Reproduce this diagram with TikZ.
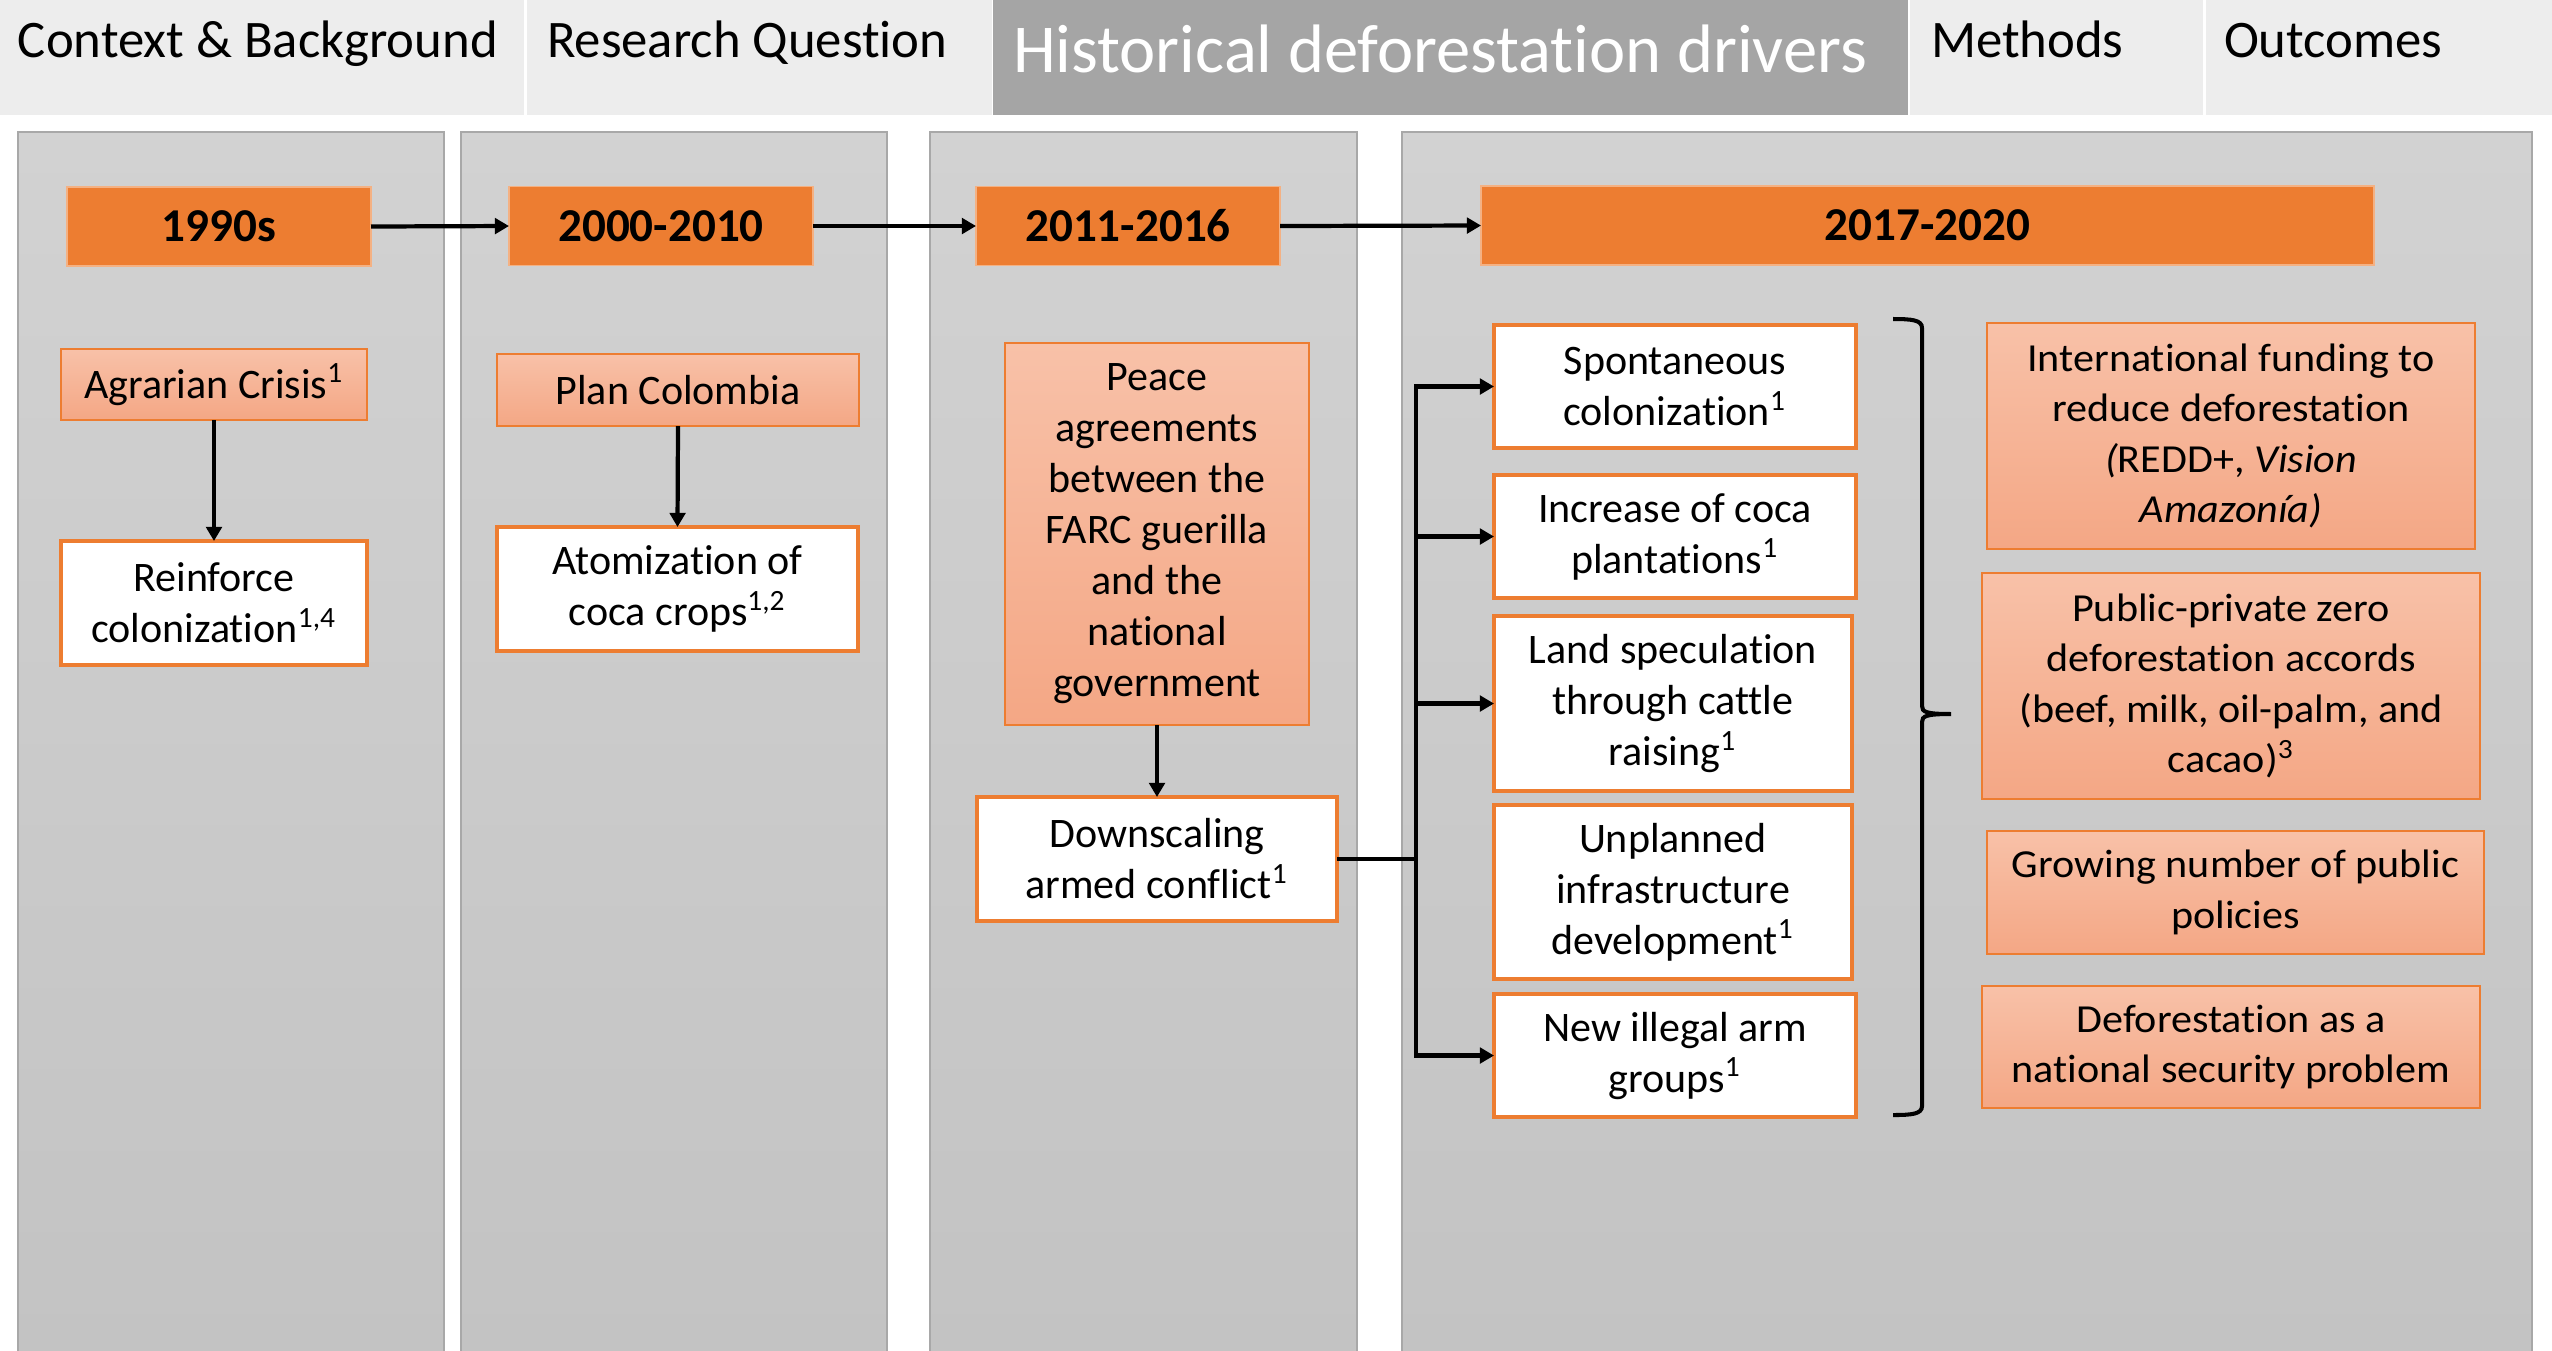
\documentclass[tikz,border=0pt]{standalone}
\usepackage{fontspec}
\setmainfont{Carlito}[Ligatures=NoCommon]
\newfontfamily\rfont{Carlito}[Ligatures=NoCommon, FakeStretch=1.06]
\usetikzlibrary{arrows.meta,calc}
\definecolor{orng}{HTML}{ED7D31}
\definecolor{orngedge}{HTML}{F4B183}
\definecolor{ltop}{HTML}{F8C1A8}
\definecolor{lbot}{HTML}{F4A785}
\definecolor{ptop}{HTML}{D2D2D2}
\definecolor{pbot}{HTML}{C3C3C3}
\definecolor{pedge}{HTML}{A8A8A8}
\definecolor{tablight}{HTML}{EDEDED}
\definecolor{tabdark}{HTML}{A5A5A5}
\begin{document}
\begin{tikzpicture}[x=0.01cm,y=-0.01cm,
  every node/.style={inner sep=0pt, outer sep=0pt},
  sz/.style 2 args={minimum width=#1*0.01cm, minimum height=#2*0.01cm},
  tab/.style={rectangle, anchor=north west, minimum height=1.15cm},
  tabtext/.style={anchor=base west, font=\fontsize{15}{18}\selectfont},
  panel/.style={rectangle, anchor=north west, draw=pedge, line width=0.4pt, top color=ptop, bottom color=pbot},
  yearbox/.style={rectangle, fill=orng, draw=orngedge, line width=0.4pt, font=\fontsize{13.4}{16}\selectfont\bfseries},
  lbox/.style={rectangle, top color=ltop, bottom color=lbot, draw=orng, line width=0.5pt, align=center, font=\fontsize{11.95}{14.5}\selectfont},
  wbox/.style={rectangle, fill=white, draw=orng, line width=1pt, align=center, font=\fontsize{11.95}{14.5}\selectfont},
  rbox/.style={lbox, font=\rfont\fontsize{11.3}{14.3}\selectfont},
  arr/.style={line width=1.2pt, -{Triangle[length=4pt,width=4.4pt]}},
  ln/.style={line width=1.2pt},
  bracestyle/.style={line width=1.15pt},
]
\useasboundingbox (0,0) rectangle (2552,1350);
\fill[white] (0,0) rectangle (2552,1350);
% header tabs
\node[tab, fill=tablight, minimum width=5.24cm] (t1) at (0,0) {};
\node[tab, fill=tablight, minimum width=4.65cm] (t2) at (527,0) {};
\node[tab, fill=tabdark, minimum width=9.14cm] (t3) at (993,0) {};
\node[tab, fill=tablight, minimum width=2.93cm] (t4) at (1910,0) {};
\node[tab, fill=tablight, minimum width=3.46cm] (t5) at (2206,0) {};
\node[tabtext] (tt1) at (18,57) {Context \& Background};
\node[tabtext] (tt2) at (547,57) {Research Question};
\node[tabtext, text=white, font=\fontsize{19.5}{23}\selectfont] (tt3) at (1013,72) {Historical deforestation drivers};
\node[tabtext] (tt4) at (1931,57) {Methods};
\node[tabtext] (tt5) at (2224,57) {Outcomes};
% panels
\node[panel, sz={426}{1222}] (p1) at (18,132) {};
\node[panel, sz={426}{1222}] (p2) at (461,132) {};
\node[panel, sz={427}{1222}] (p3) at (930,132) {};
\node[panel, sz={1130}{1222}] (p4) at (1402,132) {};
% year boxes
\node[yearbox, sz={304}{79}] (y1990) at (219,226.5) {1990s};
\node[yearbox, sz={304}{79}] (y2000) at (661,226) {2000-2010};
\node[yearbox, sz={304}{79}] (y2011) at (1128,226) {2011-2016};
\node[yearbox, sz={893}{79}] (y2017) at (1927.5,225.5) {2017-2020};
% left boxes
\node[lbox, sz={306}{71}] (agr) at (214,384.5) {Agrarian Crisis\textsuperscript{1}};
\node[wbox, sz={306}{124}] (reinf) at (214,603) {Reinforce\\colonization\textsuperscript{1,4}};
\node[lbox, sz={362}{72}] (plan) at (678,390) {Plan Colombia};
\node[wbox, sz={361}{124}] (atom) at (677.5,589) {Atomization of\\coca crops\textsuperscript{1,2}};
\node[lbox, sz={304}{382}] (peace) at (1157,534) {Peace\\agreements\\between the\\FARC guerilla\\and the\\national\\government};
\node[wbox, sz={360}{124}] (down) at (1157,859) {Downscaling\\armed conflict\textsuperscript{1}};
% 2017-2020 drivers
\node[wbox, sz={362}{123}] (spont) at (1675,386.5) {Spontaneous\\colonization\textsuperscript{1}};
\node[wbox, sz={362}{123}] (incr) at (1675,536.5) {Increase of coca\\plantations\textsuperscript{1}};
\node[wbox, sz={358}{175}] (land) at (1673,703.5) {Land speculation\\through cattle\\raising\textsuperscript{1}};
\node[wbox, sz={358}{174}] (unpl) at (1673,892) {Unplanned\\infrastructure\\development\textsuperscript{1}};
\node[wbox, sz={362}{123}] (newill) at (1675,1055.5) {New illegal arm\\groups\textsuperscript{1}};
% responses
\node[rbox, sz={488}{226}] (intl) at (2231,436) {International funding to\\reduce deforestation\\\textit{(}REDD+, \textit{Vision}\\\textit{Amazonía)}};
\node[rbox, sz={498}{226}] (pubpriv) at (2231,686) {Public-private zero\\deforestation accords\\(beef, milk, oil-palm, and\\cacao)\textsuperscript{3}};
\node[rbox, sz={497}{123}] (grow) at (2235.5,892.5) {Growing number of public\\policies};
\node[rbox, sz={498}{122}] (defsec) at (2231,1047) {Deforestation as a\\national security problem};
% connectors
\draw[arr] (y1990.east) -- (y2000.west);
\draw[arr] (y2000.east) -- (y2011.west);
\draw[arr] (y2011.east) -- (y2017.west);
\draw[arr] (agr.south) -- (reinf.north);
\draw[arr] (plan.south) -- (atom.north);
\draw[arr] (peace.south) -- (down.north);
\coordinate (tr) at (1416,859);
\draw[ln] (down.east) -- (tr);
\draw[arr] (tr) |- (spont.west);
\draw[arr] (tr) |- (incr.west);
\draw[arr] (tr) |- (land.west);
\draw[arr] (tr) |- (newill.west);
% brace
\coordinate (bt) at (1893,319);
\coordinate (btc) at (1922,328);
\coordinate (bm1) at (1922,706);
\coordinate (btip) at (1951,714);
\coordinate (bm2) at (1922,722);
\coordinate (bbc) at (1922,1106);
\coordinate (bb) at (1893,1115);
\draw[bracestyle] (bt) .. controls (1912,319) and (1922,320) .. (btc) -- (bm1)
  .. controls (1922,712) and (1926,714) .. (btip)
  .. controls (1926,714) and (1922,716) .. (bm2) -- (bbc)
  .. controls (1922,1114) and (1912,1115) .. (bb);
\end{tikzpicture}
\end{document}
